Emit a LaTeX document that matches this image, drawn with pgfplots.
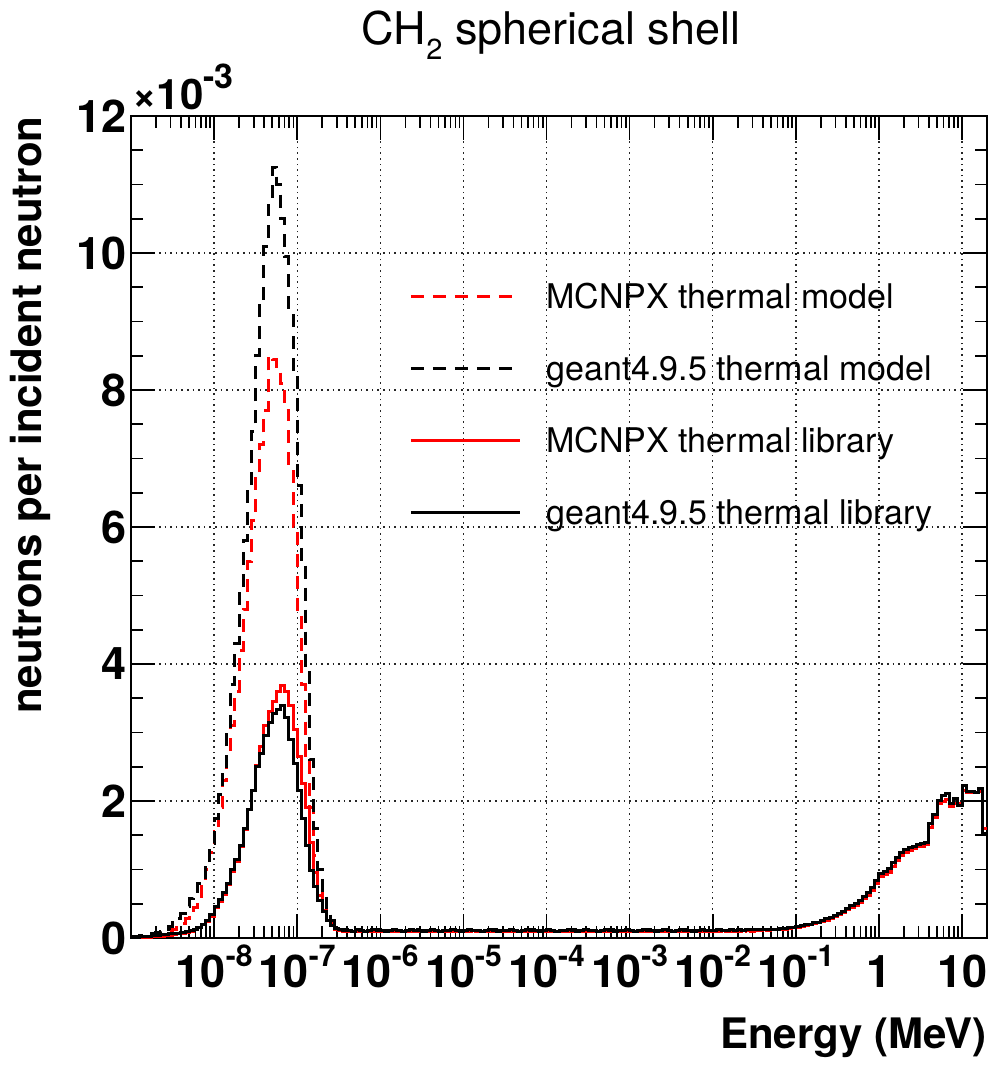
\documentclass[border=0pt]{standalone}
\usepackage{fontspec}
\setmainfont{TeX Gyre Heros}
\usepackage{pgfplots}
\usepackage{pgfplotstable}
\pgfplotsset{compat=1.18}
\newcommand{\tsup}[1]{\raisebox{0.45em}{\fontsize{15}{15}\selectfont #1}}

% columns: E (left bin edge, MeV), A = MCNPX thermal model, B = geant4.9.5 thermal model,
% C = MCNPX thermal library, D = geant4.9.5 thermal library  (units of 1e-3)
\pgfplotstableread{
E A B C D
1e-9 0.01 0.02 0.00 0.01
1.122e-9 0.01 0.02 0.00 0.01
1.259e-9 0.01 0.03 0.00 0.02
1.413e-9 0.02 0.03 0.01 0.02
1.585e-9 0.02 0.05 0.01 0.02
1.778e-9 0.03 0.07 0.02 0.03
1.995e-9 0.04 0.08 0.02 0.04
2.239e-9 0.05 0.10 0.02 0.05
2.512e-9 0.07 0.13 0.03 0.05
2.818e-9 0.09 0.17 0.04 0.06
3.162e-9 0.12 0.22 0.05 0.06
3.548e-9 0.16 0.29 0.06 0.07
3.981e-9 0.21 0.36 0.07 0.08
4.467e-9 0.28 0.46 0.08 0.09
5.012e-9 0.36 0.58 0.10 0.11
5.623e-9 0.45 0.68 0.12 0.13
6.310e-9 0.55 0.80 0.15 0.16
7.079e-9 0.75 0.88 0.19 0.20
7.943e-9 1.00 1.11 0.24 0.25
8.913e-9 1.25 1.38 0.32 0.34
1e-8 1.55 1.75 0.44 0.46
1.122e-8 1.90 2.10 0.54 0.56
1.259e-8 2.30 2.45 0.64 0.66
1.413e-8 2.70 3.00 0.78 0.80
1.585e-8 3.10 3.70 0.97 1.00
1.778e-8 3.60 4.30 1.12 1.15
1.995e-8 4.20 5.10 1.33 1.35
2.239e-8 4.80 5.80 1.58 1.60
2.512e-8 5.50 6.60 1.87 1.88
2.818e-8 6.10 7.40 2.15 2.15
3.162e-8 6.80 8.50 2.52 2.50
3.548e-8 7.20 9.30 2.80 2.70
3.981e-8 7.70 10.10 3.10 2.95
4.467e-8 8.50 10.70 3.30 3.15
5.012e-8 8.45 11.25 3.45 3.28
5.623e-8 8.35 11.00 3.60 3.34
6.310e-8 8.10 10.50 3.68 3.40
7.079e-8 7.70 9.95 3.60 3.22
7.943e-8 6.90 9.20 3.40 2.90
8.913e-8 6.00 8.30 3.05 2.55
1e-7 4.80 6.60 2.65 2.15
1.122e-7 3.70 5.50 2.25 1.75
1.259e-7 2.60 3.90 1.90 1.35
1.413e-7 1.90 2.60 1.40 0.98
1.585e-7 1.20 1.60 0.95 0.75
1.778e-7 0.85 1.00 0.62 0.55
1.995e-7 0.55 0.65 0.40 0.38
2.239e-7 0.35 0.40 0.26 0.25
2.512e-7 0.22 0.25 0.18 0.18
2.818e-7 0.15 0.17 0.13 0.14
3.162e-7 0.12 0.13 0.11 0.12
3.548e-7 0.11 0.12 0.10 0.11
3.981e-7 0.10 0.11 0.10 0.11
4.467e-7 0.10 0.11 0.09 0.10
5.012e-7 0.11 0.12 0.10 0.12
5.623e-7 0.10 0.11 0.10 0.11
6.310e-7 0.09 0.10 0.09 0.10
7.079e-7 0.10 0.11 0.10 0.11
7.943e-7 0.11 0.11 0.10 0.12
8.913e-7 0.10 0.12 0.09 0.11
1e-6 0.10 0.11 0.10 0.11
1.122e-6 0.09 0.11 0.09 0.10
1.259e-6 0.10 0.10 0.10 0.11
1.413e-6 0.11 0.12 0.10 0.12
1.585e-6 0.10 0.11 0.11 0.11
1.778e-6 0.09 0.10 0.09 0.10
1.995e-6 0.10 0.11 0.10 0.11
2.239e-6 0.11 0.11 0.10 0.12
2.512e-6 0.10 0.12 0.09 0.11
2.818e-6 0.10 0.11 0.10 0.11
3.162e-6 0.09 0.11 0.09 0.10
3.548e-6 0.10 0.10 0.10 0.11
3.981e-6 0.11 0.12 0.10 0.12
4.467e-6 0.10 0.11 0.11 0.11
5.012e-6 0.09 0.10 0.09 0.10
5.623e-6 0.10 0.11 0.10 0.11
6.310e-6 0.10 0.12 0.09 0.11
7.079e-6 0.11 0.11 0.10 0.12
7.943e-6 0.10 0.11 0.10 0.11
8.913e-6 0.09 0.11 0.09 0.10
1e-5 0.10 0.10 0.10 0.11
1.122e-5 0.11 0.12 0.10 0.12
1.259e-5 0.10 0.11 0.11 0.11
1.413e-5 0.10 0.11 0.10 0.11
1.585e-5 0.09 0.10 0.09 0.10
1.778e-5 0.10 0.11 0.10 0.11
1.995e-5 0.11 0.11 0.10 0.12
2.239e-5 0.10 0.12 0.09 0.11
2.512e-5 0.09 0.11 0.09 0.10
2.818e-5 0.10 0.10 0.10 0.11
3.162e-5 0.10 0.11 0.10 0.11
3.548e-5 0.11 0.12 0.10 0.12
3.981e-5 0.10 0.11 0.11 0.11
4.467e-5 0.09 0.10 0.09 0.10
5.012e-5 0.10 0.11 0.10 0.11
5.623e-5 0.11 0.11 0.10 0.12
6.310e-5 0.10 0.12 0.09 0.11
7.079e-5 0.10 0.11 0.10 0.11
7.943e-5 0.09 0.11 0.09 0.10
8.913e-5 0.10 0.10 0.10 0.11
1e-4 0.11 0.12 0.10 0.12
1.122e-4 0.10 0.11 0.11 0.11
1.259e-4 0.09 0.10 0.09 0.10
1.413e-4 0.10 0.11 0.10 0.11
1.585e-4 0.10 0.11 0.10 0.11
1.778e-4 0.11 0.11 0.10 0.12
1.995e-4 0.10 0.12 0.09 0.11
2.239e-4 0.09 0.11 0.09 0.10
2.512e-4 0.10 0.10 0.10 0.11
2.818e-4 0.11 0.12 0.10 0.12
3.162e-4 0.10 0.11 0.11 0.11
3.548e-4 0.10 0.11 0.10 0.11
3.981e-4 0.09 0.10 0.09 0.10
4.467e-4 0.10 0.11 0.10 0.11
5.012e-4 0.11 0.11 0.10 0.12
5.623e-4 0.10 0.12 0.09 0.11
6.310e-4 0.09 0.11 0.09 0.10
7.079e-4 0.10 0.10 0.10 0.11
7.943e-4 0.10 0.11 0.10 0.11
8.913e-4 0.11 0.12 0.10 0.12
1e-3 0.10 0.11 0.11 0.11
1.122e-3 0.09 0.10 0.09 0.10
1.259e-3 0.10 0.11 0.10 0.11
1.413e-3 0.11 0.11 0.10 0.12
1.585e-3 0.10 0.12 0.09 0.11
1.778e-3 0.10 0.11 0.10 0.11
1.995e-3 0.09 0.11 0.09 0.10
2.239e-3 0.10 0.10 0.10 0.11
2.512e-3 0.11 0.12 0.10 0.12
2.818e-3 0.10 0.11 0.11 0.11
3.162e-3 0.09 0.10 0.09 0.10
3.548e-3 0.10 0.11 0.10 0.11
3.981e-3 0.11 0.11 0.10 0.12
4.467e-3 0.10 0.12 0.09 0.11
5.012e-3 0.10 0.11 0.10 0.11
5.623e-3 0.09 0.11 0.09 0.10
6.310e-3 0.10 0.10 0.10 0.11
7.079e-3 0.11 0.12 0.10 0.12
7.943e-3 0.10 0.11 0.11 0.11
8.913e-3 0.10 0.11 0.10 0.11
1e-2 0.10 0.11 0.10 0.11
1.122e-2 0.11 0.12 0.10 0.12
1.259e-2 0.10 0.11 0.11 0.11
1.413e-2 0.10 0.11 0.10 0.11
1.585e-2 0.11 0.12 0.10 0.12
1.778e-2 0.10 0.11 0.11 0.11
1.995e-2 0.11 0.12 0.10 0.12
2.239e-2 0.10 0.11 0.11 0.11
2.512e-2 0.11 0.12 0.11 0.12
2.818e-2 0.11 0.11 0.10 0.12
3.162e-2 0.11 0.12 0.11 0.12
3.548e-2 0.12 0.12 0.11 0.12
3.981e-2 0.11 0.13 0.12 0.12
4.467e-2 0.12 0.12 0.11 0.12
5.012e-2 0.12 0.13 0.12 0.13
5.623e-2 0.13 0.13 0.12 0.13
6.310e-2 0.13 0.14 0.13 0.14
7.079e-2 0.13 0.14 0.13 0.14
7.943e-2 0.14 0.15 0.14 0.15
8.913e-2 0.15 0.16 0.15 0.16
1e-1 0.16 0.17 0.16 0.17
1.122e-1 0.17 0.18 0.17 0.18
1.259e-1 0.18 0.19 0.18 0.19
1.413e-1 0.19 0.20 0.19 0.20
1.585e-1 0.21 0.22 0.21 0.22
1.778e-1 0.22 0.23 0.22 0.23
1.995e-1 0.24 0.25 0.24 0.25
2.239e-1 0.27 0.28 0.26 0.28
2.512e-1 0.29 0.30 0.29 0.30
2.818e-1 0.32 0.33 0.31 0.33
3.162e-1 0.34 0.36 0.34 0.36
3.548e-1 0.38 0.39 0.37 0.39
3.981e-1 0.41 0.43 0.41 0.43
4.467e-1 0.45 0.47 0.44 0.47
5.012e-1 0.48 0.50 0.48 0.50
5.623e-1 0.53 0.55 0.52 0.55
6.310e-1 0.58 0.60 0.57 0.60
7.079e-1 0.63 0.66 0.62 0.66
7.943e-1 0.71 0.74 0.70 0.74
8.913e-1 0.81 0.84 0.80 0.84
1 0.90 0.94 0.90 0.94
1.122 0.93 0.97 0.92 0.97
1.259 0.97 1.01 0.96 1.01
1.413 1.06 1.10 1.05 1.10
1.585 1.14 1.18 1.13 1.18
1.778 1.21 1.25 1.20 1.25
1.995 1.26 1.29 1.25 1.29
2.239 1.29 1.32 1.28 1.32
2.512 1.31 1.34 1.30 1.34
2.818 1.34 1.36 1.33 1.36
3.162 1.35 1.38 1.34 1.38
3.548 1.37 1.40 1.36 1.40
3.981 1.62 1.67 1.62 1.67
4.467 1.76 1.80 1.76 1.80
5.012 1.96 2.01 1.96 2.01
5.623 2.00 2.08 2.00 2.08
6.310 2.02 2.11 2.02 2.11
7.079 1.92 1.96 1.92 1.96
7.943 1.96 2.04 1.96 2.04
8.913 1.96 1.94 1.96 1.94
10 2.15 2.23 2.15 2.23
11.22 2.12 2.14 2.12 2.14
12.59 2.12 2.14 2.12 2.14
14.13 2.12 2.13 2.12 2.13
15.85 2.14 2.18 2.14 2.18
17.78 1.60 1.53 1.60 1.53
19.95 1.60 1.53 1.60 1.53
}\hist

\begin{document}
\begin{tikzpicture}
\path[use as bounding box] (-65.5pt,-64.5pt) rectangle (434pt,469pt);
\begin{axis}[
  at={(0,0)}, anchor=south west,
  scale only axis, width=428pt, height=411pt,
  xmode=log, xmin=1e-9, xmax=19.95,
  ymin=0, ymax=12,
  xtick={1e-8,1e-7,1e-6,1e-5,1e-4,1e-3,1e-2,1e-1,1,10},
  xticklabels={{10\tsup{-8}},{10\tsup{-7}},{10\tsup{-6}},{10\tsup{-5}},{10\tsup{-4}},{10\tsup{-3}},{10\tsup{-2}},{10\tsup{-1}},{1},{10}},
  minor xtick={2e-9,3e-9,4e-9,5e-9,6e-9,7e-9,8e-9,9e-9,
    2e-8,3e-8,4e-8,5e-8,6e-8,7e-8,8e-8,9e-8,
    2e-7,3e-7,4e-7,5e-7,6e-7,7e-7,8e-7,9e-7,
    2e-6,3e-6,4e-6,5e-6,6e-6,7e-6,8e-6,9e-6,
    2e-5,3e-5,4e-5,5e-5,6e-5,7e-5,8e-5,9e-5,
    2e-4,3e-4,4e-4,5e-4,6e-4,7e-4,8e-4,9e-4,
    2e-3,3e-3,4e-3,5e-3,6e-3,7e-3,8e-3,9e-3,
    2e-2,3e-2,4e-2,5e-2,6e-2,7e-2,8e-2,9e-2,
    2e-1,3e-1,4e-1,5e-1,6e-1,7e-1,8e-1,9e-1,
    2,3,4,5,6,7,8,9},
  ytick={0,2,4,6,8,10,12},
  yticklabels={0,2,4,6,8,10,12},
  minor y tick num=3,
  tick align=inside,
  major tick length=12pt, minor tick length=6pt,
  tick style={black, line width=0.8pt},
  axis line style={line width=1.1pt},
  grid=major,
  major grid style={black!85, line width=0.7pt, dash pattern=on 0.8pt off 2pt},
  xticklabel style={font=\fontsize{22.5}{26}\selectfont\bfseries, anchor=base, inner sep=0pt, yshift=-24.5pt},
  yticklabel style={font=\fontsize{22.5}{26}\selectfont\bfseries, anchor=east, inner sep=0pt, xshift=-2pt},
  xlabel={Energy (MeV)},
  xlabel style={font=\fontsize{21}{25}\selectfont\bfseries, at={(axis description cs:1,0)}, anchor=base east, inner sep=0pt, yshift=-55pt},
  ylabel={neutrons per incident neutron},
  ylabel style={font=\fontsize{21}{25}\selectfont\bfseries, at={(axis description cs:-0.104,1)}, anchor=base east, inner sep=0pt},
  legend cell align=left,
  legend image code/.code={\draw[#1] (0pt,0pt) -- (54.5pt,0pt);},
  legend style={draw=none, fill=none, inner sep=0pt,
    at={(axis description cs:0.3248,0.8046)}, anchor=north west,
    font=\fontsize{17}{20.4}\selectfont,
    nodes={inner sep=0pt, text height=15.8pt, text depth=3.6pt},
    row sep=16.6pt, column sep=12.5pt},
]
\addplot[const plot mark left, red, line width=1.5pt, dash pattern=on 6.5pt off 4.5pt] table[x=E, y=A] {\hist};
\addlegendentry{MCNPX thermal model}
\addplot[const plot mark left, black, line width=1.5pt, dash pattern=on 6.5pt off 4.5pt] table[x=E, y=B] {\hist};
\addlegendentry{geant4.9.5 thermal model}
\addplot[const plot mark left, red, line width=1.5pt] table[x=E, y=C] {\hist};
\addlegendentry{MCNPX thermal library}
\addplot[const plot mark left, black, line width=1.5pt] table[x=E, y=D] {\hist};
\addlegendentry{geant4.9.5 thermal library}
\end{axis}
\node[anchor=base west, inner sep=0pt, font=\fontsize{21}{24}\selectfont\bfseries] at ([xshift=0.5pt, yshift=3pt]current axis.north west) {×10\raisebox{0.5em}{\fontsize{17}{17}\selectfont -3}};
\node[anchor=base, inner sep=0pt, font=\fontsize{22.5}{26}\selectfont] at ([xshift=-4pt, yshift=35.5pt]current axis.north) {CH\raisebox{-7.5pt}{\fontsize{14.5}{15}\selectfont 2} spherical shell};
\end{tikzpicture}
\end{document}
